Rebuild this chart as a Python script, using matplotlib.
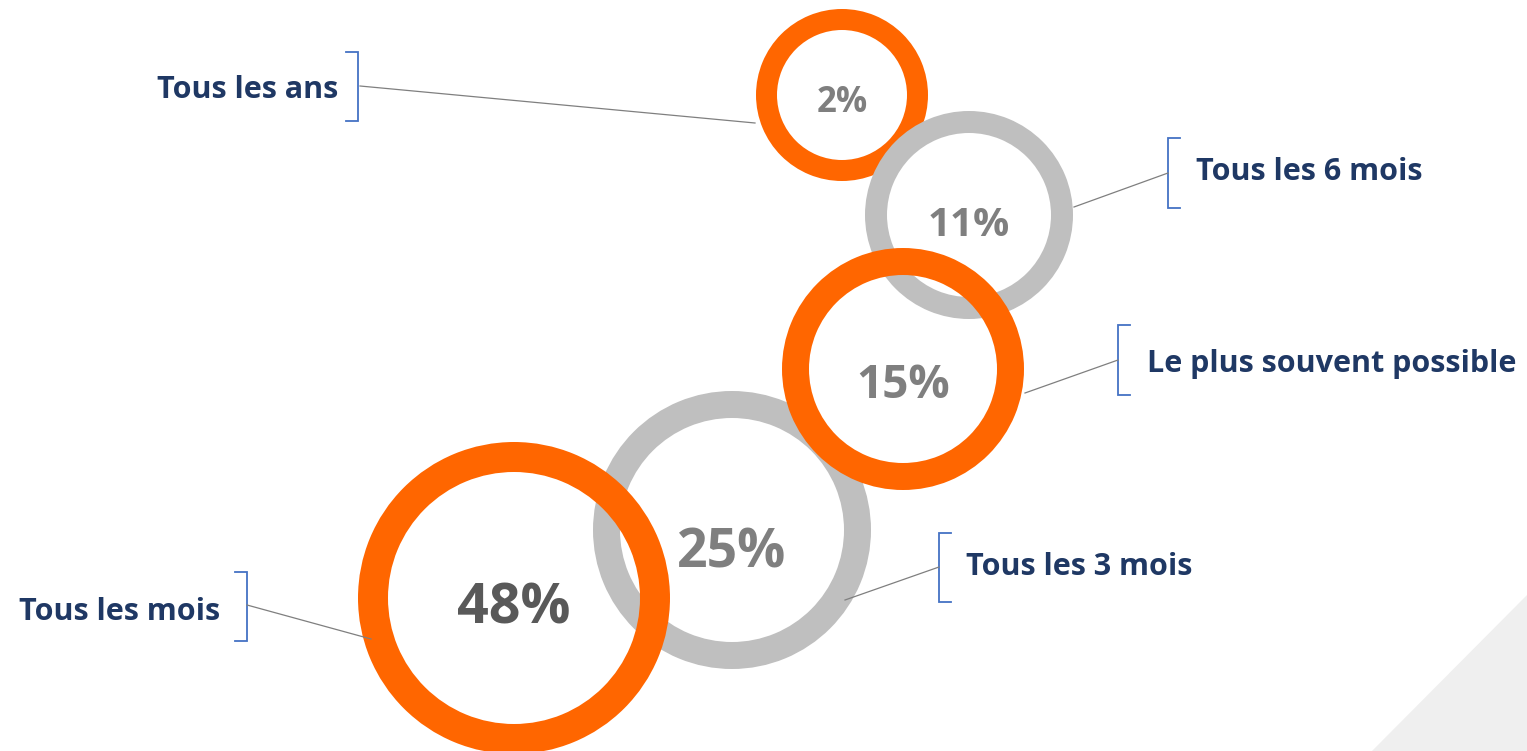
import matplotlib
matplotlib.use("Agg")
import matplotlib.pyplot as plt
from matplotlib.patches import Annulus, Polygon

# ---- data ----
categories = ["Tous les ans", "Tous les 6 mois", "Le plus souvent possible",
              "Tous les 3 mois", "Tous les mois"]
values = [2, 11, 15, 25, 48]

# ---- layout (pixels, y downward) ----
centers = [(842, 95), (969, 215), (903, 369), (732, 530), (514, 598)]
radii = [86, 104, 121, 139, 156]
widths = [21, 22, 27, 27, 30]
ring_colors = ["#FF6600", "#BFBFBF", "#FF6600", "#BFBFBF", "#FF6600"]
text_colors = ["#7F7F7F", "#7F7F7F", "#7F7F7F", "#7F7F7F", "#595959"]
text_sizes = [25, 29, 33, 38.5, 40]
text_offsets = [8, 10, 17, 23, 11]
zorders = [1, 2, 4, 3, 5]
# label side: -1 left, +1 right
sides = [-1, 1, 1, 1, -1]
bracket_x = [358, 1168, 1118, 939, 247]
bracket_y = [(52, 121), (138, 208), (325, 395), (533, 602), (572, 641)]
line_start = [(360, 86), (1168, 173), (1118, 360), (939, 567), (247, 605)]
line_end = [(755, 123), (1074, 207), (1025, 393), (845, 600), (371, 639)]
label_xy = [(338, 90), (1196, 172), (1147, 364), (966, 567), (220, 612)]

W, H = 1527, 751
fig = plt.figure(figsize=(W / 100, H / 100), dpi=100)
ax = fig.add_axes([0, 0, 1, 1])
ax.set_xlim(0, W)
ax.set_ylim(H, 0)
ax.set_aspect("equal")
ax.axis("off")

# background triangle
ax.add_patch(Polygon([(W, 595), (1372, H), (W, H)], closed=True,
                     facecolor="#EFEFEF", edgecolor="none", zorder=0))

FONT = "Open Sans"
for i, v in enumerate(values):
    cx, cy = centers[i]
    ax.add_patch(Annulus((cx, cy), radii[i], widths[i],
                         facecolor=ring_colors[i], edgecolor="none",
                         zorder=zorders[i]))
    ax.text(cx, cy + text_offsets[i], f"{v}%", ha="center", va="center",
            fontsize=text_sizes[i], fontweight="bold", color=text_colors[i],
            family=FONT, zorder=10)

for i, cat in enumerate(categories):
    bx = bracket_x[i]
    y0, y1 = bracket_y[i]
    tick = 12
    if sides[i] < 0:
        xs = [bx - tick, bx, bx, bx - tick]
        ha = "right"
    else:
        xs = [bx + tick, bx, bx, bx + tick]
        ha = "left"
    ax.plot(xs, [y0, y0, y1, y1], color="#4472C4", lw=1.3, zorder=6,
            solid_joinstyle="miter")
    (sx, sy), (ex, ey) = line_start[i], line_end[i]
    ax.plot([sx, ex], [sy, ey], color="#7F7F7F", lw=0.9, zorder=6)
    lx, ly = label_xy[i]
    ax.text(lx, ly, cat, ha=ha, va="center", fontsize=22, fontweight="bold",
            color="#1F3864", family=FONT, zorder=10)

fig.savefig("out.png", dpi=100, facecolor="white")
